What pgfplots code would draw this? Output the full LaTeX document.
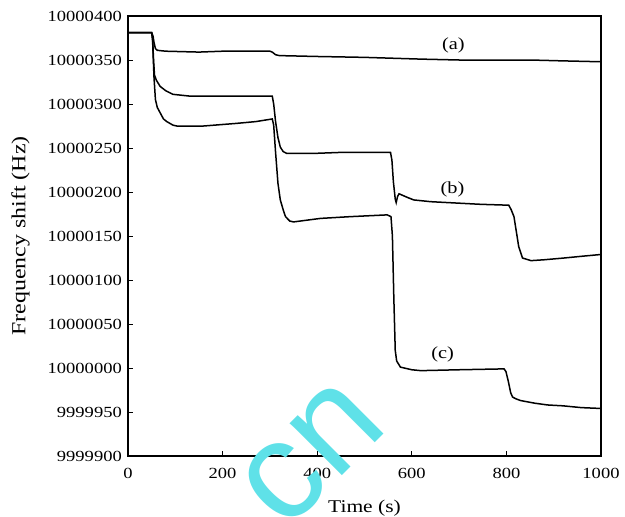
\documentclass[border=0pt]{standalone}
\usepackage{fontspec}
\setmainfont{Liberation Serif}[FakeStretch=1.2]
\newfontfamily\wmfont{Liberation Sans}
\usepackage{pgfplots}
\pgfplotsset{compat=1.18}
\definecolor{wm}{RGB}{95,225,232}
\begin{document}
\begin{tikzpicture}
\path[use as bounding box] (-128bp,-61bp) rectangle (497bp,456bp);
\begin{axis}[
  at={(0,0)}, anchor=south west,
  scale only axis, width=473bp, height=440bp,
  xmin=0, xmax=1000, ymin=9999900, ymax=10000400,
  y coord trafo/.code={\edef\pgfmathresult{\the\numexpr#1-10000000\relax}},
  xtick={0,200,400,600,800,1000},
  xticklabels={0,200,400,600,800,1000},
  ytick={9999900,9999950,10000000,10000050,10000100,10000150,10000200,10000250,10000300,10000350,10000400},
  yticklabels={9999900,9999950,10000000,10000050,10000100,10000150,10000200,10000250,10000300,10000350,10000400},
  scaled y ticks=false,
  xtick pos=left, ytick pos=left, tick align=inside,
  major tick length=5bp,
  /pgf/number format/assume math mode=true,
  tick label style={font=\fontsize{15.5}{15.5}\selectfont},
  yticklabel style={inner sep=1bp, xshift=-5bp},
  xticklabel style={yshift=-9bp},
  axis line style={line width=1.2bp},
  tick style={line width=1bp, black},
  xlabel={Time (s)},
  ylabel={Frequency shift (Hz)},
  xlabel style={font=\fontsize{18}{18}\selectfont, at={(axis description cs:0.5,-0.1295)}, anchor=base},
  ylabel style={font=\fontsize{20}{20}\selectfont, at={(axis description cs:-0.227,0.5)}, anchor=center},
]
% (a)
\addplot[black, line width=1.5bp, no markers] table {
0 10000381
50 10000381
53 10000377
55 10000370
58 10000363
62 10000361
80 10000360
150 10000359
200 10000360
260 10000360
300 10000360
305 10000359
312 10000356
320 10000355
400 10000354
500 10000353
620 10000351
700 10000350
850 10000350
920 10000349
1000 10000348
};
% (b)
\addplot[black, line width=1.5bp, no markers] table {
0 10000381
50 10000381
52 10000375
54 10000350
56 10000333
60 10000327
68 10000320
80 10000315
95 10000311
130 10000309
200 10000309
250 10000309
305 10000309
308 10000300
312 10000280
317 10000262
322 10000251
328 10000246
335 10000244
400 10000244
450 10000245
500 10000245
555 10000245
558 10000236
561 10000212
565 10000192
567 10000188
570 10000195
573 10000198
590 10000194
604 10000191
640 10000189
675 10000188
746 10000186
805 10000185
810 10000180
816 10000172
821 10000155
826 10000138
834 10000125
852 10000122
880 10000123
922 10000125
960 10000127
1000 10000129
};
% (c)
\addplot[black, line width=1.5bp, no markers] table {
0 10000381
50 10000381
52 10000372
55 10000330
58 10000305
62 10000296
68 10000290
75 10000283
82 10000280
95 10000276
103 10000275
160 10000275
230 10000278
270 10000280
305 10000283
308 10000276
312 10000245
317 10000210
322 10000191
328 10000180
333 10000172
342 10000167
350 10000166
407 10000170
470 10000172
548 10000174
556 10000172
559 10000150
562 10000080
565 10000020
568 10000008
576 10000001
600 9999998
619 9999997
700 9999998
795 9999999
799 9999996
804 9999985
809 9999972
813 9999967
820 9999965
830 9999963
860 9999960
887 9999958
920 9999957
958 9999955
1000 9999954
};
\node[font=\fontsize{17}{17}\selectfont] at (axis cs:688,10000367) {(a)};
\node[font=\fontsize{17}{17}\selectfont] at (axis cs:686,10000203) {(b)};
\node[font=\fontsize{17}{17}\selectfont] at (axis cs:665,10000015) {(c)};
\end{axis}
\node[rotate=45, text=wm, font=\wmfont\fontsize{140}{140}\selectfont, inner sep=0pt] at (184bp,2bp) {cn};
\end{tikzpicture}
\end{document}
